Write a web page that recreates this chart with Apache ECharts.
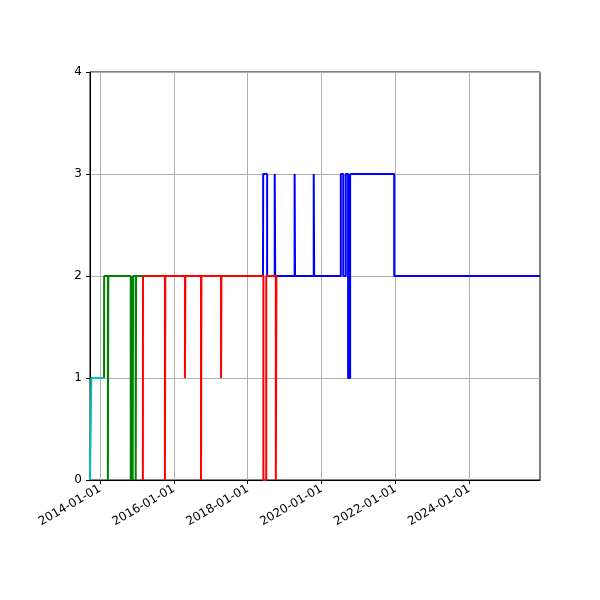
<!DOCTYPE html>
<html><head><meta charset="utf-8">
<script src="https://cdn.jsdelivr.net/npm/echarts@6/dist/echarts.min.js"></script>
<style>html,body{margin:0;padding:0;background:#fff}#c{width:600px;height:600px}</style>
</head><body><div id="c"></div>
<script>
const cyanData = [['2013-09-24',0],['2013-10-07',1],['2014-02-10',1]];
const greenData = [['2014-02-10',1],['2014-02-11',2],['2014-03-20',0],['2014-03-24',2],['2014-11-01',0],['2014-11-05',2],['2014-11-20',0],['2014-11-24',2],['2014-12-20',0],['2014-12-24',2],['2015-03-01',2]];
const redData = [['2015-03-01',0],['2015-03-02',2],['2015-10-05',0],['2015-10-09',2],['2016-04-20',1],['2016-04-24',2],['2016-09-26',0],['2016-09-30',2],['2017-04-12',1],['2017-04-16',2],['2018-06-05',0],['2018-07-03',2],['2018-10-06',0],['2018-10-12',2]];
const blueData = [['2018-06-01',2],['2018-06-03',3],['2018-07-12',2],['2018-09-25',3],['2018-09-30',2],['2019-04-10',3],['2019-04-14',2],['2019-10-16',3],['2019-10-20',2],['2020-07-10',3],['2020-08-03',2],['2020-08-28',3],['2020-09-20',1],['2020-10-10',3],['2021-12-20',2],['2025-12-01',2]];
const xTickLabels = ['2014-01-01','2016-01-01','2018-01-01','2020-01-01','2022-01-01','2024-01-01'];
const xStart = '2013-09-24', xEnd = '2025-12-01', origin = '2014-01-01';
const yTicks = [0,1,2,3,4];

const DAY = 86400000;
const o = Date.parse(origin);
const toDays = s => (Date.parse(s) - o) / DAY;
const conv = arr => arr.map(p => [toDays(p[0]), p[1]]);
const tickVals = xTickLabels.map(toDays);
const fmt = v => new Date(o + Math.round(v) * DAY).toISOString().slice(0, 10);

const mk = (data, color) => ({type:'line', step:'end', data:conv(data), showSymbol:false, symbol:'none',
  lineStyle:{color, width:2}, itemStyle:{color}, animation:false});

const chart = echarts.init(document.getElementById('c'));
chart.setOption({
  animation:false,
  grid:{left:90, right:60, top:72, bottom:120, show:true, borderColor:'#000', borderWidth:1},
  xAxis:{type:'value', min:toDays(xStart), max:toDays(xEnd),
    axisLine:{onZero:false, lineStyle:{color:'#000'}},
    axisTick:{show:true, length:4, customValues:tickVals, lineStyle:{color:'#000'}},
    axisLabel:{rotate:30, customValues:tickVals, formatter:fmt, color:'#000', fontSize:12, fontFamily:'DejaVu Sans', margin:8},
    splitLine:{show:true, lineStyle:{color:'#b0b0b0', width:1}}},
  yAxis:{type:'value', min:yTicks[0], max:yTicks[yTicks.length-1], interval:1,
    axisLine:{show:true, onZero:false, lineStyle:{color:'#000'}}, axisTick:{show:true, length:4, lineStyle:{color:'#000'}},
    axisLabel:{color:'#000', fontSize:12, fontFamily:'DejaVu Sans'},
    splitLine:{show:true, lineStyle:{color:'#b0b0b0', width:1}}},
  series:[mk(blueData,'#0000ff'), mk(redData,'#ff0000'), mk(greenData,'#008000'), mk(cyanData,'#00bfbf')]
});
</script></body></html>
